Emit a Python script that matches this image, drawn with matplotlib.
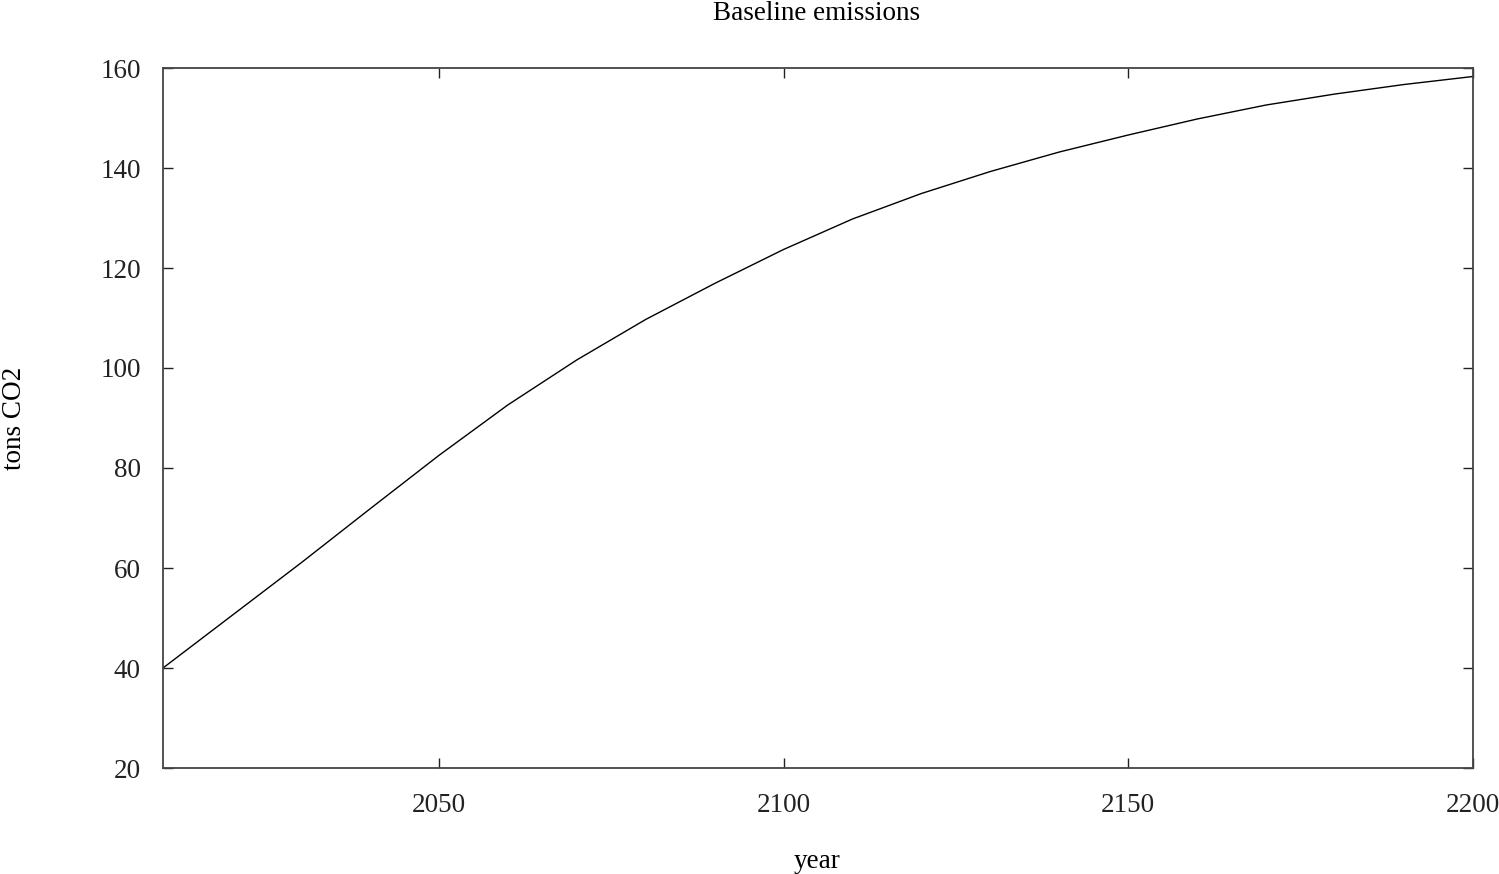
import matplotlib
matplotlib.use("Agg")
import matplotlib.pyplot as plt

years = [2010, 2020, 2030, 2040, 2050, 2060, 2070, 2080, 2090, 2100,
         2110, 2120, 2130, 2140, 2150, 2160, 2170, 2180, 2190, 2200]
emissions = [40.0, 50.5, 61.0, 71.8, 82.5, 92.6, 101.6, 109.7, 116.9, 123.7,
             129.8, 134.9, 139.3, 143.2, 146.6, 149.8, 152.6, 154.8, 156.7, 158.3]
x_ticks = [2050, 2100, 2150, 2200]
y_ticks = [20, 40, 60, 80, 100, 120, 140, 160]

plt.rcParams['font.family'] = ['Liberation Serif', 'DejaVu Serif']

W, H = 1499, 874
FS = 19.5
fig = plt.figure(figsize=(W / 100, H / 100), dpi=100)
ax = fig.add_axes([163 / W, 1 - 768 / H, (1473 - 163) / W, (768 - 68) / H])

ax.plot(years, emissions, color='black', lw=1.0)
ax.set_xlim(2010, 2200)
ax.set_ylim(20, 160)
ax.set_xticks(x_ticks)
ax.set_yticks(y_ticks)
ax.tick_params(direction='in', length=7, width=1, top=True, right=True,
               labelsize=FS, colors='#222222')
ax.tick_params(axis='y', pad=16)
ax.tick_params(axis='x', pad=18)
for s in ax.spines.values():
    s.set_color('#444444')
    s.set_linewidth(1.3)

fig.text(817 / W, 1 - 14 / H, 'Baseline emissions', ha='center', va='center', fontsize=FS)
fig.text(817 / W, 1 - 862 / H, 'year', ha='center', va='center', fontsize=FS)
fig.text(15 / W, 1 - 418 / H, 'tons CO2', ha='center', va='center', rotation=90, fontsize=FS)

fig.savefig('out.png', dpi=100)
